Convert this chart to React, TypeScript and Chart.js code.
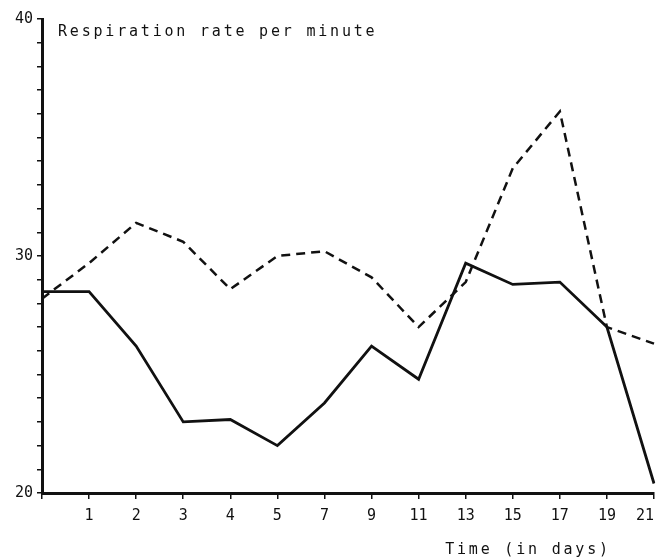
import React, { useEffect, useRef } from "react";
import { Chart, registerables } from "chart.js";

Chart.register(...registerables);

const days = ["0", "1", "2", "3", "4", "5", "7", "9", "11", "13", "15", "17", "19", "21"];
const xTickLabels = ["", "1", "2", "3", "4", "5", "7", "9", "11", "13", "15", "17", "19", "21"];
const dashedSeries = [28.2, 29.7, 31.4, 30.6, 28.6, 30.0, 30.2, 29.1, 27.0, 28.9, 33.7, 36.1, 27.0, 26.3];
const solidSeries = [28.5, 28.5, 26.2, 23.0, 23.1, 22.0, 23.8, 26.2, 24.8, 29.7, 28.8, 28.9, 27.0, 20.4];
const yLabelValues = [20, 30, 40];
const chartTitle = "Respiration rate per minute";
const xTitle = "Time (in days)";

const FONT = '"DejaVu Sans Mono", "Liberation Mono", monospace';
const INK = "#111";

const textPlugin = {
  id: "texts",
  afterDraw(chart: any) {
    const ctx = chart.ctx;
    const area = chart.chartArea;
    ctx.save();
    ctx.font = `15px ${FONT}`;
    ctx.fillStyle = INK;
    try {
      (ctx as any).letterSpacing = "2.8px";
    } catch (e) {}
    ctx.textBaseline = "middle";
    ctx.textAlign = "left";
    ctx.fillText(chartTitle, area.left + 16, area.top + 13);
    ctx.textAlign = "center";
    ctx.fillText(xTitle, 528, 550);
    ctx.restore();
  },
};

export default function App() {
  const ref = useRef<HTMLCanvasElement | null>(null);

  useEffect(() => {
    if (!ref.current) return;
    const chart = new Chart(ref.current, {
      type: "line",
      data: {
        labels: days,
        datasets: [
          {
            label: "dashed",
            data: dashedSeries,
            borderColor: INK,
            borderWidth: 2.5,
            borderDash: [9, 6],
            pointRadius: 0,
            tension: 0,
            fill: false,
          },
          {
            label: "solid",
            data: solidSeries,
            borderColor: INK,
            borderWidth: 2.8,
            pointRadius: 0,
            tension: 0,
            fill: false,
          },
        ],
      },
      options: {
        responsive: false,
        animation: false,
        layout: { padding: { top: 19, right: 3, left: 0, bottom: 0 } },
        plugins: {
          legend: { display: false },
          tooltip: { enabled: false },
          title: { display: false },
        },
        scales: {
          x: {
            type: "category",
            offset: false,
            grid: {
              display: true,
              drawOnChartArea: false,
              drawTicks: true,
              tickLength: 6,
              color: INK,
              lineWidth: 1.5,
            },
            border: { display: true, color: INK, width: 3 },
            ticks: {
              autoSkip: false,
              maxRotation: 0,
              minRotation: 0,
              padding: 8,
              color: INK,
              font: { family: FONT, size: 15 },
              callback: (_v: any, i: number) => {
                const l = xTickLabels[i];
                return i === xTickLabels.length - 1 ? l + "\u00a0\u00a0" : l;
              },
            },
            afterFit: (s: any) => {
              s.height = 65;
              s.paddingLeft = 0;
              s.paddingRight = 0;
            },
          },
          y: {
            min: 20,
            max: 40,
            grid: {
              display: true,
              drawOnChartArea: false,
              drawTicks: true,
              tickLength: 5,
              color: INK,
              lineWidth: 1.5,
            },
            border: { display: true, color: INK, width: 3 },
            ticks: {
              stepSize: 1,
              autoSkip: false,
              padding: 4,
              color: INK,
              font: { family: FONT, size: 15 },
              callback: (v: any) => (yLabelValues.includes(Number(v)) ? String(v) : ""),
            },
            afterFit: (s: any) => {
              s.width = 42;
              s.paddingTop = 0;
              s.paddingBottom = 0;
            },
          },
        },
      },
      plugins: [textPlugin],
    });
    return () => chart.destroy();
  }, []);

  return (
    <div style={{ position: "fixed", left: 0, top: 0, width: 657, height: 558, background: "#fff" }}>
      <canvas ref={ref} width={657} height={558} />
    </div>
  );
}
